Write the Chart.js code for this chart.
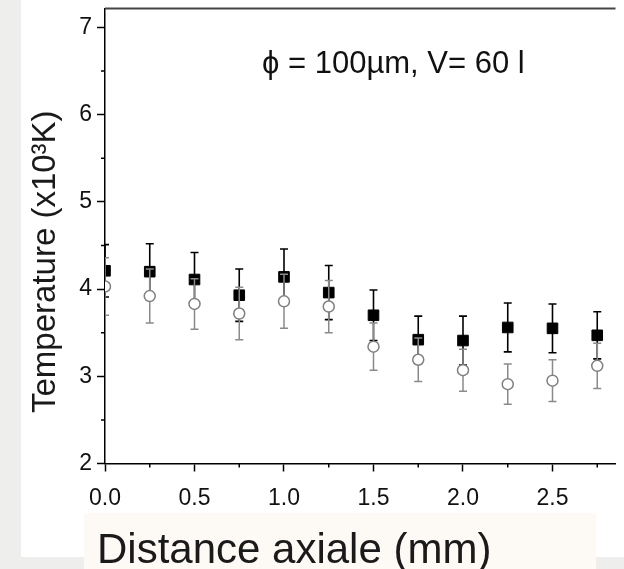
<!DOCTYPE html>
<html>
<head>
<meta charset="utf-8">
<script src="https://cdn.jsdelivr.net/npm/chart.js@4"></script>
<style>
  html, body { margin: 0; padding: 0; }
  body { width: 624px; height: 569px; background: #eeeeec; position: relative; overflow: hidden; }
  .panel { position: absolute; left: 21px; top: 0; width: 603px; height: 557px; background: #fff; }
  .caption { position: absolute; left: 84px; top: 513px; width: 512px; height: 56px; background: #fdf9f5; }
  .wrap { position: absolute; left: 0; top: 0; width: 624px; height: 569px; }
</style>
</head>
<body>
<div class="panel"></div>
<div class="caption"></div>
<div class="wrap"><canvas id="tempChart" width="624" height="569"></canvas></div>
<script>
// axial distance (mm)
const distance = [0, 0.25, 0.5, 0.75, 1.0, 1.25, 1.5, 1.75, 2.0, 2.25, 2.5, 2.75];
// filled squares (x10^3 K) and their error
const tempSquares = [4.21, 4.20, 4.11, 3.93, 4.14, 3.96, 3.70, 3.42, 3.41, 3.56, 3.55, 3.47];
const errSquares  = [0.30, 0.32, 0.31, 0.30, 0.32, 0.31, 0.29, 0.27, 0.28, 0.28, 0.28, 0.27];
// open circles (x10^3 K) and their error
const tempCircles = [4.03, 3.92, 3.83, 3.72, 3.86, 3.80, 3.34, 3.19, 3.07, 2.91, 2.95, 3.12];
const errCircles  = [0.33, 0.31, 0.29, 0.30, 0.31, 0.30, 0.27, 0.25, 0.24, 0.23, 0.24, 0.26];

const xTicks = [0, 0.5, 1.0, 1.5, 2.0, 2.5];
const xMinorTicks = [0.25, 0.75, 1.25, 1.75, 2.25, 2.75];
const yTicks = [2, 3, 4, 5, 6, 7];
const yMinorTicks = [2.5, 3.5, 4.5, 5.5, 6.5];

const xTitle = "Distance axiale (mm)";
const yTitle = "Temperature (x10³K)";
const note = "ϕ = 100µm, V= 60 l";

const FONT = "'Liberation Sans', Arial, Helvetica, sans-serif";

function toPoints(values) {
  return values.map((v, i) => ({ x: distance[i], y: v }));
}

// vertical error bars, drawn just before each dataset's own points
const errorBars = {
  id: "errorBars",
  beforeDatasetDraw(chart, args) {
    const ds = chart.data.datasets[args.index];
    if (!ds.errors) return;
    const { ctx, chartArea: a, scales: { x, y } } = chart;
    ctx.save();
    ctx.beginPath();
    ctx.rect(a.left, a.top, a.right - a.left, a.bottom - a.top);
    ctx.clip();
    ctx.strokeStyle = ds.errorColor;
    ctx.lineWidth = ds.errorWidth;
    ds.data.forEach((p, i) => {
      const px = x.getPixelForValue(p.x);
      const hi = y.getPixelForValue(p.y + ds.errors[i]);
      const lo = y.getPixelForValue(p.y - ds.errors[i]);
      ctx.beginPath();
      ctx.moveTo(px, hi); ctx.lineTo(px, lo);
      ctx.moveTo(px - 4, hi); ctx.lineTo(px + 4, hi);
      ctx.moveTo(px - 4, lo); ctx.lineTo(px + 4, lo);
      ctx.stroke();
    });
    ctx.restore();
  }
};

// top frame line, minor ticks, axis titles and the note
const decorations = {
  id: "decorations",
  afterDraw(chart) {
    const { ctx, chartArea: a, scales: { x, y } } = chart;
    ctx.save();
    ctx.strokeStyle = "#444";
    ctx.lineWidth = 2;
    ctx.beginPath();
    ctx.moveTo(a.left, a.top);
    ctx.lineTo(a.right, a.top);
    ctx.stroke();

    ctx.strokeStyle = "#000";
    ctx.lineWidth = 1.5;
    ctx.beginPath();
    xMinorTicks.forEach(v => {
      const px = x.getPixelForValue(v);
      ctx.moveTo(px, a.bottom);
      ctx.lineTo(px, a.bottom + 4);
    });
    yMinorTicks.forEach(v => {
      const py = y.getPixelForValue(v);
      ctx.moveTo(a.left, py);
      ctx.lineTo(a.left - 4, py);
    });
    ctx.stroke();

    ctx.fillStyle = "#1a1a1a";
    ctx.textAlign = "left";
    ctx.textBaseline = "alphabetic";
    ctx.font = "42px " + FONT;
    ctx.fillText(xTitle, a.left - 8, 563);

    ctx.save();
    ctx.translate(55, 413);
    ctx.rotate(-Math.PI / 2);
    ctx.font = "33px " + FONT;
    ctx.fillText(yTitle, 0, 0);
    ctx.restore();

    ctx.fillStyle = "#111";
    ctx.font = "31px " + FONT;
    ctx.fillText(note, 262, 73);
    ctx.restore();
  }
};

document.addEventListener("DOMContentLoaded", () => {
  const ctx = document.getElementById("tempChart").getContext("2d");
  new Chart(ctx, {
    type: "scatter",
    data: {
      datasets: [
        {
          label: "squares",
          data: toPoints(tempSquares),
          errors: errSquares,
          errorColor: "#000",
          errorWidth: 1.6,
          pointStyle: "rect",
          pointRadius: 7.5,
          backgroundColor: "#000",
          borderColor: "#000",
          borderWidth: 1,
          order: 2,
          clip: 0,
        },
        {
          label: "circles",
          data: toPoints(tempCircles),
          errors: errCircles,
          errorColor: "#8a8a8a",
          errorWidth: 1.5,
          pointStyle: "circle",
          pointRadius: 5.5,
          backgroundColor: "#fff",
          borderColor: "#808080",
          borderWidth: 1.5,
          order: 1,
          clip: 0,
        },
      ],
    },
    options: {
      responsive: false,
      animation: false,
      layout: { padding: { top: 8, right: 0, bottom: 0, left: 0 } },
      plugins: {
        legend: { display: false },
        tooltip: { enabled: false },
      },
      scales: {
        x: {
          type: "linear",
          min: 0,
          max: 2.852,
          afterBuildTicks: s => { s.ticks = xTicks.map(v => ({ value: v })); },
          afterFit: s => { s.height = 105.5; s.paddingLeft = 0; s.paddingRight = 0; },
          border: { color: "#000", width: 1.5 },
          grid: { drawOnChartArea: false, tickLength: 8, tickWidth: 1.5, tickColor: "#000" },
          ticks: {
            color: "#111",
            font: { family: FONT, size: 23 },
            padding: 13,
            maxRotation: 0,
            autoSkip: false,
            callback: v => v.toFixed(1),
          },
        },
        y: {
          type: "linear",
          min: 2,
          max: 7.218,
          afterBuildTicks: s => { s.ticks = yTicks.map(v => ({ value: v })); },
          afterFit: s => { s.width = 105; s.paddingTop = 0; s.paddingBottom = 0; },
          border: { color: "#000", width: 1.5 },
          grid: { drawOnChartArea: false, tickLength: 8, tickWidth: 1.5, tickColor: "#000" },
          ticks: {
            color: "#111",
            font: { family: FONT, size: 23 },
            padding: 5,
            autoSkip: false,
            callback: v => String(v),
          },
        },
      },
    },
    plugins: [errorBars, decorations],
  });
});
</script>
</body>
</html>
